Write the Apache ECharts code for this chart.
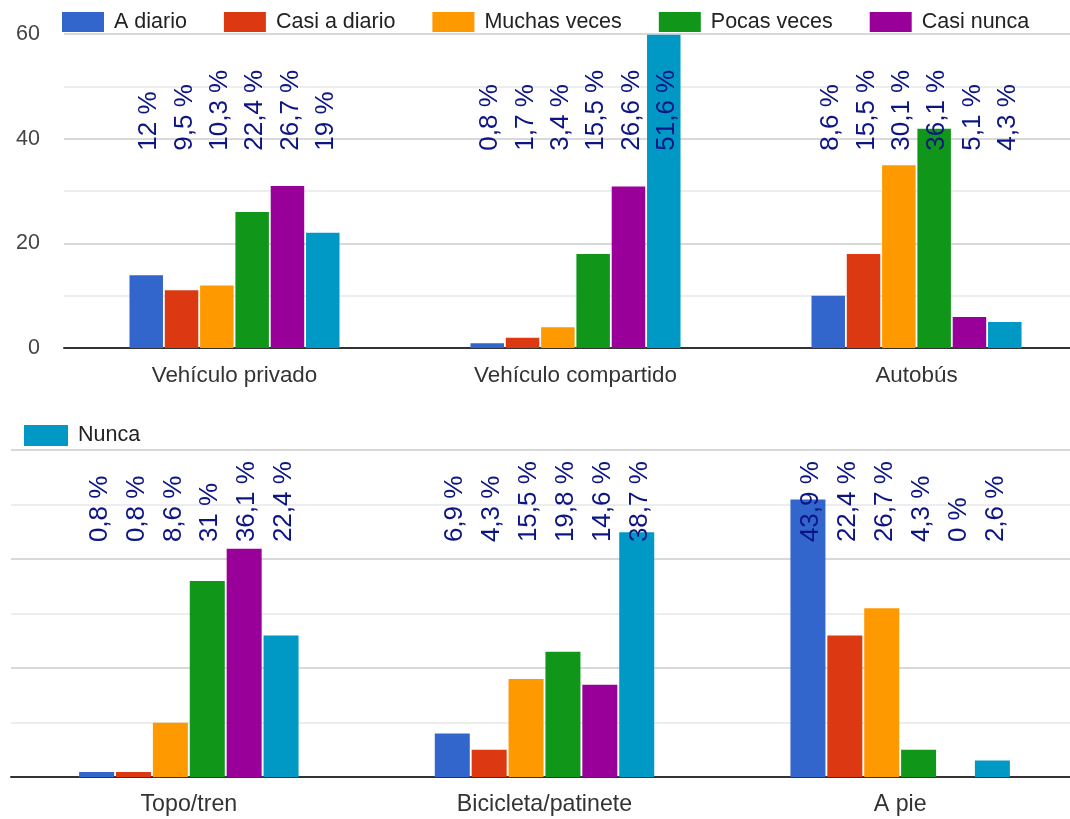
<!DOCTYPE html>
<html lang="es">
<head>
<meta charset="utf-8">
<title>Frecuencia de uso por medio de transporte</title>
<script src="https://cdn.jsdelivr.net/npm/echarts@6/dist/echarts.min.js"></script>
<style>
  html, body { margin: 0; padding: 0; background: #ffffff; }
  #chart { width: 1070px; height: 819px; }
</style>
</head>
<body>
<div id="chart"></div>
<script>
// Transport modes, split over the two panels
const transportTop = ['Vehículo privado', 'Vehículo compartido', 'Autobús'];
const transportBottom = ['Topo/tren', 'Bicicleta/patinete', 'A pie'];

// Answer options and their colours
const frequencies = ['A diario', 'Casi a diario', 'Muchas veces', 'Pocas veces', 'Casi nunca', 'Nunca'];
const frequencyColors = ['#3366cc', '#dc3912', '#ff9900', '#109618', '#990099', '#0099c6'];

// Share of respondents (%) for each answer, in the order transportTop then transportBottom
const pctADiario    = [12,   0.8,  8.6,  0.8,  6.9,  43.9];
const pctCasiDiario = [9.5,  1.7,  15.5, 0.8,  4.3,  22.4];
const pctMuchas     = [10.3, 3.4,  30.1, 8.6,  15.5, 26.7];
const pctPocas      = [22.4, 15.5, 36.1, 31,   19.8, 4.3];
const pctCasiNunca  = [26.7, 26.6, 5.1,  36.1, 14.6, 0];
const pctNunca      = [19,   51.6, 4.3,  22.4, 38.7, 2.6];

// Number of people who answered each row
const RESPONDENTS = 116;

// Value axis ticks (count of answers)
const yTicks = [0, 20, 40, 60];

const pctBySeries = [pctADiario, pctCasiDiario, pctMuchas, pctPocas, pctCasiNunca, pctNunca];
const FONT = '"Liberation Sans", Arial, Helvetica, sans-serif';

function toCount(p) { return p * RESPONDENTS / 100; }
function pctText(p) { return String(p).replace('.', ',') + ' %'; }

// Panel layout: which modes go where, bar size, axis text size and
// the height (in answers) where the % labels start
const panels = [
  { from: 0, to: 3, categories: transportTop, barWidth: 33.5, labelBase: 37.7, catFont: 22.4 },
  { from: 3, to: 6, categories: transportBottom, barWidth: 35, labelBase: 43.1, catFont: 23.2 }
];

const series = [];
panels.forEach(function (pn, gi) {
  frequencies.forEach(function (name, si) {
    series.push({
      type: 'bar',
      name: name,
      xAxisIndex: gi,
      yAxisIndex: gi,
      data: pctBySeries[si].slice(pn.from, pn.to).map(toCount),
      barWidth: pn.barWidth,
      barGap: '5.4%',
      itemStyle: { color: frequencyColors[si] },
      emphasis: { disabled: true },
      z: 2
    });
  });
});

// Percentage labels, written upright from a common baseline above each group
panels.forEach(function (pn, gi) {
  frequencies.forEach(function (name, si) {
    const pcts = pctBySeries[si].slice(pn.from, pn.to);
    series.push({
      type: 'bar',
      name: name,
      xAxisIndex: gi + 2,
      yAxisIndex: gi,
      data: pcts.map(function () { return pn.labelBase; }),
      barWidth: pn.barWidth,
      barGap: '5.4%',
      silent: true,
      z: 5,
      itemStyle: { color: 'rgba(0,0,0,0)' },
      emphasis: { disabled: true },
      label: {
        show: true,
        position: 'top',
        distance: 0,
        rotate: 90,
        align: 'left',
        verticalAlign: 'middle',
        offset: [0, 3],
        color: '#0d1585',
        fontSize: 26,
        fontFamily: FONT,
        formatter: function (p) { return pctText(pcts[p.dataIndex]); }
      }
    });
  });
});

function valueAxis(gridIndex, showLabels) {
  return {
    type: 'value',
    gridIndex: gridIndex,
    min: yTicks[0],
    max: yTicks[yTicks.length - 1],
    interval: yTicks[1] - yTicks[0],
    axisLine: { show: false },
    axisTick: { show: false },
    axisLabel: {
      show: showLabels,
      color: '#444444',
      fontSize: 21.5,
      fontFamily: FONT,
      margin: 24
    },
    splitLine: { show: true, lineStyle: { color: '#cccccc', width: 1.5 } },
    minorTick: { show: false, splitNumber: 2 },
    minorSplitLine: { show: true, lineStyle: { color: '#e8e8e8', width: 1.5 } }
  };
}

function categoryAxis(gridIndex, visible) {
  const pn = panels[gridIndex];
  return {
    type: 'category',
    gridIndex: gridIndex,
    data: pn.categories,
    show: visible,
    axisTick: { show: false },
    axisLine: { show: true, lineStyle: { color: '#333333', width: 2 } },
    axisLabel: { color: '#333333', fontSize: pn.catFont, fontFamily: FONT, margin: gridIndex === 0 ? 17 : 16 },
    splitLine: { show: false }
  };
}

const legendText = { fontSize: 21.5, color: '#222222', fontFamily: FONT, lineHeight: 20, padding: [0, 0, 0, 5] };

const option = {
  animation: false,
  backgroundColor: '#ffffff',
  textStyle: { fontFamily: FONT },
  legend: [
    {
      data: frequencies.slice(0, 5),
      left: 62, top: 11, padding: 0,
      icon: 'rect', itemWidth: 42, itemHeight: 20, itemGap: 37,
      textStyle: legendText
    },
    {
      data: frequencies.slice(5),
      left: 24, top: 424.5, padding: 0,
      icon: 'rect', itemWidth: 44, itemHeight: 21,
      textStyle: Object.assign({}, legendText, { lineHeight: 21 })
    }
  ],
  grid: [
    { left: 64, top: 34, width: 1023, height: 314, outerBoundsMode: 'none', containLabel: false },
    { left: 11, top: 450, width: 1067, height: 327, outerBoundsMode: 'none', containLabel: false }
  ],
  xAxis: [
    categoryAxis(0, true),
    categoryAxis(1, true),
    categoryAxis(0, false),
    categoryAxis(1, false)
  ],
  yAxis: [valueAxis(0, true), valueAxis(1, false)],
  series: series
};

const chart = echarts.init(document.getElementById('chart'), null, { renderer: 'canvas' });
chart.setOption(option);
</script>
</body>
</html>
